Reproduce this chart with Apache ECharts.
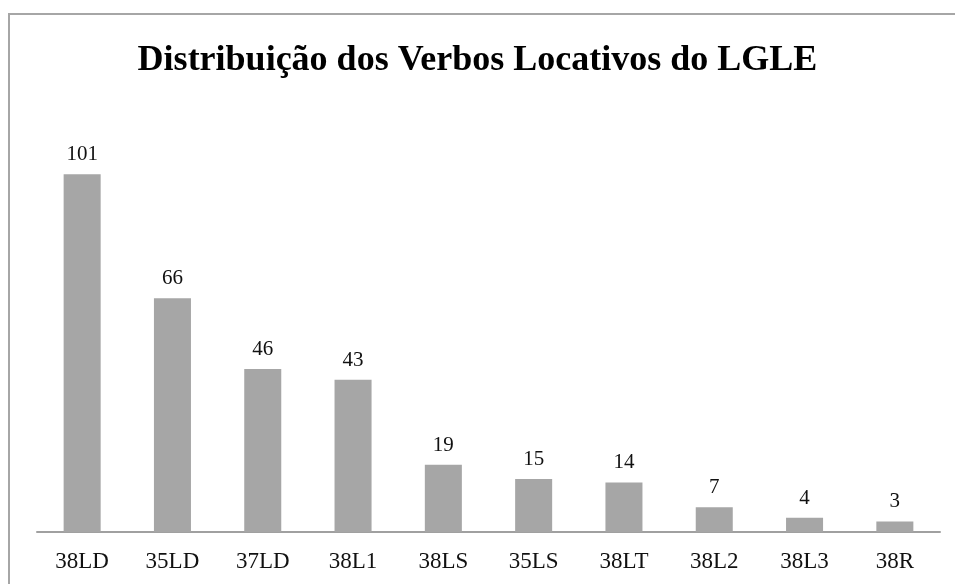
<!DOCTYPE html>
<html>
<head>
<meta charset="utf-8">
<script src="https://cdn.jsdelivr.net/npm/echarts@6/dist/echarts.min.js"></script>
<style>
  html, body { margin: 0; padding: 0; background: #fff; }
  #chart { width: 955px; height: 584px; }
</style>
</head>
<body>
<div id="chart"></div>
<script>
var categories = ['38LD', '35LD', '37LD', '38L1', '38LS', '35LS', '38LT', '38L2', '38L3', '38R'];
var values = [101, 66, 46, 43, 19, 15, 14, 7, 4, 3];

var chart = echarts.init(document.getElementById('chart'));
var serif = '"Liberation Serif", "Times New Roman", serif';

var option = {
    animation: false,
    graphic: [{
        type: 'rect',
        shape: { x: 9, y: 14, width: 1000, height: 1000 },
        style: { fill: 'none', stroke: '#a6a6a6', lineWidth: 2 }
    }],
    title: {
        text: 'Distribuição dos Verbos Locativos do LGLE',
        left: 'center',
        top: 38,
        textStyle: { fontFamily: serif, fontSize: 36, fontWeight: 'bold', color: '#000' }
    },
    grid: { left: 37, right: 15, top: 107, bottom: 52, containLabel: false },
    xAxis: {
        type: 'category',
        data: categories,
        axisLine: { lineStyle: { color: '#a0a0a0', width: 2 } },
        axisTick: { show: false },
        axisLabel: { fontFamily: serif, fontSize: 23, color: '#111', margin: 18 }
    },
    yAxis: {
        type: 'value',
        min: 0,
        max: 120,
        show: false,
        splitLine: { show: false }
    },
    series: [{
        type: 'bar',
        data: values,
        barWidth: '41%',
        itemStyle: { color: '#a6a6a6' },
        label: {
            show: true,
            position: 'top',
            distance: 9,
            fontFamily: serif,
            fontSize: 21,
            color: '#111'
        }
    }]
};
chart.setOption(option);
</script>
</body>
</html>
